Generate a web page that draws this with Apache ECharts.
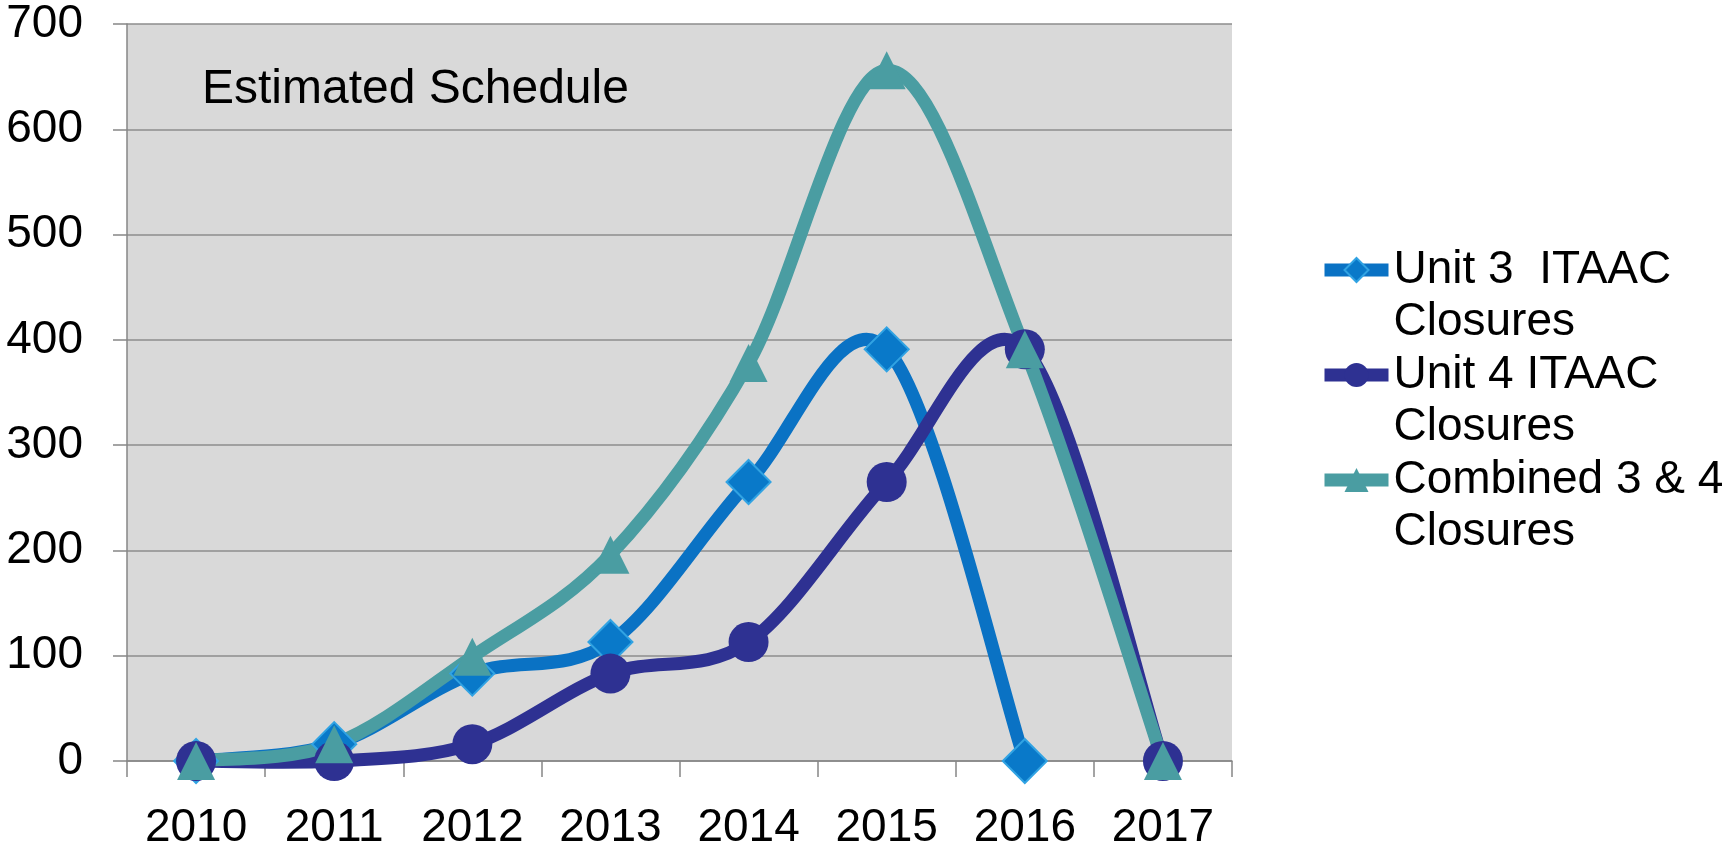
<!DOCTYPE html>
<html><head><meta charset="utf-8">
<script src="https://cdn.jsdelivr.net/npm/echarts@6/dist/echarts.min.js"></script>
<style>html,body{margin:0;padding:0;background:#fff}#c{width:1732px;height:853px}</style>
</head><body><div id="c"></div>
<script>
const years = ['2010','2011','2012','2013','2014','2015','2016','2017'];
const unit3 = [0, 16, 83, 113, 265, 391, 0, null];
const unit4 = [0, 0, 16, 83, 113, 265, 391, 0];
const combined = [0, 16, 99, 196, 378, 656, 391, 0];
const seriesNames = ['Unit 3  ITAAC Closures', 'Unit 4 ITAAC Closures', 'Combined 3 & 4 Closures'];
const yTicks = [0, 100, 200, 300, 400, 500, 600, 700];

const FONT = '"Liberation Sans", Arial, sans-serif';
const LW = 13;
const C3 = '#0a72c4', C4 = '#2e3192', CC = '#4a9da2';
const chart = echarts.init(document.getElementById('c'), null, {renderer: 'canvas'});

// Excel-like smoothed curve (Catmull-Rom style Bezier) through the library's coordinate system
function smoothCurve(values, color) {
  return {
    type: 'custom', silent: true, data: [[0, 0]],
    renderItem: function (params, api) {
      const pts = [];
      values.forEach((v, i) => { if (v !== null && v !== undefined) pts.push(api.coord([i, v])); });
      const children = [];
      for (let i = 0; i < pts.length - 1; i++) {
        const p0 = pts[i - 1] || pts[i], p1 = pts[i], p2 = pts[i + 1], p3 = pts[i + 2] || pts[i + 1];
        children.push({
          type: 'bezierCurve',
          shape: {
            x1: p1[0], y1: p1[1], x2: p2[0], y2: p2[1],
            cpx1: p1[0] + (p2[0] - p0[0]) / 6, cpy1: p1[1] + (p2[1] - p0[1]) / 6,
            cpx2: p2[0] - (p3[0] - p1[0]) / 6, cpy2: p2[1] - (p3[1] - p1[1]) / 6
          },
          style: {stroke: color, lineWidth: LW, fill: null, lineCap: 'round'}
        });
      }
      return {type: 'group', children: children};
    }
  };
}

function legendAt(name, top, color) {
  return {
    data: [name], orient: 'vertical', left: 1318, top: top, padding: 0,
    itemWidth: 64, itemHeight: 30, itemGap: 0,
    lineStyle: {color: color, width: LW, opacity: 1},
    formatter: n => '{p| }\n{t|' + n.replace(' Closures', '}\n{t|Closures}'),
    textStyle: {
      fontFamily: FONT, fontSize: 46, color: '#000',
      rich: {p: {fontSize: 46, lineHeight: 52}, t: {fontSize: 46, lineHeight: 52, fontFamily: FONT, color: '#000'}}
    }
  };
}

function markers(name, data, symbol, size, itemStyle) {
  return {
    name: name, type: 'line', data: data, symbol: symbol, symbolSize: size, showAllSymbol: true,
    lineStyle: {opacity: 0, width: LW}, itemStyle: itemStyle
  };
}

chart.setOption({
  animation: false,
  backgroundColor: '#fff',
  textStyle: {fontFamily: FONT},
  grid: {left: 127, right: 500, top: 24, bottom: 92, show: true, backgroundColor: '#d9d9d9', borderWidth: 0},
  legend: [legendAt(seriesNames[0], 195, C3), legendAt(seriesNames[1], 300, C4), legendAt(seriesNames[2], 405, CC)],
  graphic: [{
    type: 'text', left: 202, top: 66,
    style: {text: 'Estimated Schedule', font: '48px "Liberation Sans", Arial, sans-serif', fill: '#000'}
  }],
  xAxis: {
    type: 'category', data: years, boundaryGap: true,
    axisLine: {lineStyle: {color: '#868686', width: 1.5}},
    axisTick: {show: true, length: 16, alignWithLabel: false, lineStyle: {color: '#868686', width: 1.5}},
    axisLabel: {fontSize: 46, color: '#000', margin: 44, fontFamily: FONT}
  },
  yAxis: {
    type: 'value', min: yTicks[0], max: yTicks[yTicks.length - 1], interval: 100,
    axisLine: {show: true, lineStyle: {color: '#868686', width: 1.5}},
    axisTick: {show: true, length: 14, lineStyle: {color: '#868686', width: 1.5}},
    splitLine: {show: true, lineStyle: {color: '#8c8c8c', width: 1.5}},
    axisLabel: {fontSize: 46, color: '#000', margin: 44, fontFamily: FONT}
  },
  series: [
    smoothCurve(unit3, C3),
    markers(seriesNames[0], unit3, 'diamond', 44, {color: '#0979c9', borderColor: '#31a3e3', borderWidth: 2}),
    smoothCurve(unit4, C4),
    markers(seriesNames[1], unit4, 'circle', 40, {color: C4}),
    smoothCurve(combined, CC),
    markers(seriesNames[2], combined, 'triangle', 38, {color: CC})
  ]
});
</script></body></html>
